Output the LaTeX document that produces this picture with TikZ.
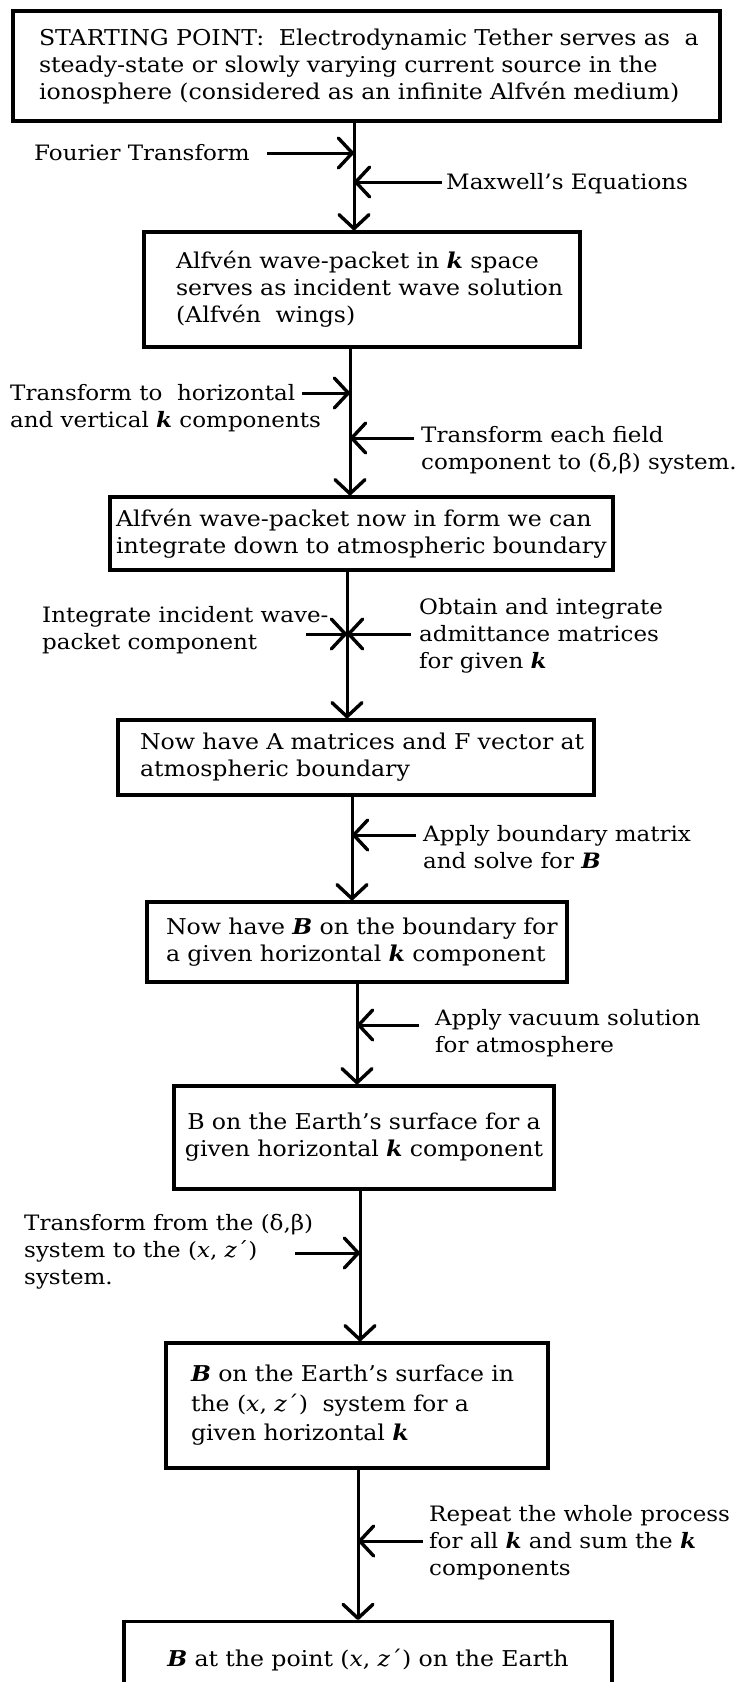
\documentclass[tikz,border=0pt]{standalone}
\usepackage{fontspec}
\setmainfont{DejaVu Serif}[FakeStretch=1.085]
\usetikzlibrary{arrows.meta}
\newcommand\bk{\textbf{\textit{k}}}
\newcommand\bB{\textbf{\textit{B}}}
\newcommand\xz{(\textit{x}, \textit{z}´)}
\begin{document}
\begin{tikzpicture}[x=1pt,y=-1pt,
  txt/.style={font=\fontsize{21.2}{27}\selectfont, inner sep=0pt, align=left, anchor=base west},
  box/.style={draw, line width=3.3pt, align=left, font=\fontsize{21.8}{27}\selectfont},
  arr/.style={line width=3pt, -{Straight Barb[length=14pt,width=30pt,line width=0.4pt 1,round]}}]
\clip (0,0) rectangle (737,1682);
\fill[white] (0,0) rectangle (737,1682);
% boxes
\node[box, line width=3.8pt, minimum width=707pt, minimum height=110pt, inner xsep=26pt, text width=655pt] (b1) at (366.5,66)
 {\mbox{STARTING POINT:\ \ Electrodynamic Tether serves as\ \ a}\\\mbox{steady-state or slowly varying current source in the}\\\mbox{ionosphere (considered as an infinite Alfvén medium)}};
\node[box, minimum width=436pt, minimum height=115pt, inner xsep=32pt, text width=372pt] (b2) at (362,289.5)
 {\mbox{Alfvén wave-packet in \bk\ space}\\\mbox{serves as incident wave solution}\\\mbox{(Alfvén\ \ wings)}};
\node[box, minimum width=503pt, minimum height=73pt, inner xsep=6pt, text width=491pt] (b3) at (361.5,533.5)
 {\mbox{Alfvén wave-packet now in form we can}\\\mbox{integrate down to atmospheric boundary}};
\node[box, minimum width=476pt, minimum height=75pt, inner xsep=22pt, text width=432pt] (b4) at (356,757.5)
 {\mbox{Now have A matrices and F vector at}\\\mbox{atmospheric boundary}};
\node[box, minimum width=420pt, minimum height=80pt, inner xsep=19pt, text width=382pt] (b5) at (357,942)
 {\mbox{Now have \bB\ on the boundary for}\\\mbox{a given horizontal \bk\ component}};
\node[box, align=center, minimum width=380pt, minimum height=103pt, inner xsep=8pt, text width=364pt] (b6) at (364,1137.5)
 {\mbox{B on the Earth's surface for a}\\\mbox{given horizontal \bk\ component}};
\node[box, font=\fontsize{21.8}{29.5}\selectfont, minimum width=382pt, minimum height=125pt, inner xsep=25pt, text width=332pt] (b7) at (357,1405.5)
 {\mbox{\bB\ on the Earth's surface in}\\\mbox{the \xz\ \ system for a}\\\mbox{given horizontal \bk}};
\node[box, align=center, anchor=north, inner xsep=0pt, inner ysep=27pt, text width=488pt, text depth=100pt] (b8) at (368,1620)
 {\mbox{\bB\ at the point \xz\ on the Earth}};
% line x positions
\coordinate (c1) at (354,0);
\coordinate (c2) at (350,0);
\coordinate (c3) at (347,0);
\coordinate (c4) at (352,0);
\coordinate (c5) at (357,0);
\coordinate (c6) at (360,0);
\coordinate (c7) at (358,0);
% main connectors
\draw[arr] (b1.south -| c1) -- (b2.north -| c1);
\draw[arr] (b2.south -| c2) -- (b3.north -| c2);
\draw[arr] (b3.south -| c3) -- (b4.north -| c3);
\draw[arr] (b4.south -| c4) -- (b5.north -| c4);
\draw[arr] (b5.south -| c5) -- (b6.north -| c5);
\draw[arr] (b6.south -| c6) -- (b7.north -| c6);
\draw[arr] (b7.south -| c7) -- (b8.north -| c7);
% labels (anchor = baseline of last line)
\node[txt] (lft) at (34,160) {Fourier Transform};
\node[txt] (lmx) at (446,189) {Maxwell's Equations};
\node[txt] (lth) at (10,427) {Transform to\ \ horizontal\\and vertical \bk\ components};
\node[txt] (lte) at (421,469) {Transform each field\\component to (δ,β) system.};
\node[txt] (lii) at (42,649) {Integrate incident wave-\\packet component};
\node[txt] (loi) at (419,668) {Obtain and integrate\\admittance matrices\\for given \bk};
\node[txt] (lab) at (423,868) {Apply boundary matrix\\and solve for \bB};
\node[txt] (lav) at (435,1052) {Apply vacuum solution\\for atmosphere};
\node[txt] (ltf) at (24,1284) {Transform from the (δ,β)\\system to the \xz\\system.};
\node[txt] (lrp) at (429,1575) {Repeat the whole process\\for all \bk\ and sum the \bk\\components};
% side arrow start points
\coordinate (sft) at (267,153);
\coordinate (smx) at (442,182);
\coordinate (sth) at (302,393);
\coordinate (ste) at (414,438);
\coordinate (sii) at (306,634);
\coordinate (soi) at (411,634);
\coordinate (sab) at (416,835);
\coordinate (sav) at (419,1025);
\coordinate (stf) at (295,1253);
\coordinate (srp) at (423,1541);
\draw[arr] (sft) -- (sft -| c1);
\draw[arr] (smx) -- (smx -| c1);
\draw[arr] (sth) -- (sth -| c2);
\draw[arr] (ste) -- (ste -| c2);
\draw[arr] (sii) -- (sii -| c3);
\draw[arr] (soi) -- (soi -| c3);
\draw[arr] (sab) -- (sab -| c4);
\draw[arr] (sav) -- (sav -| c5);
\draw[arr] (stf) -- (stf -| c6);
\draw[arr] (srp) -- (srp -| c7);
\end{tikzpicture}
\end{document}
